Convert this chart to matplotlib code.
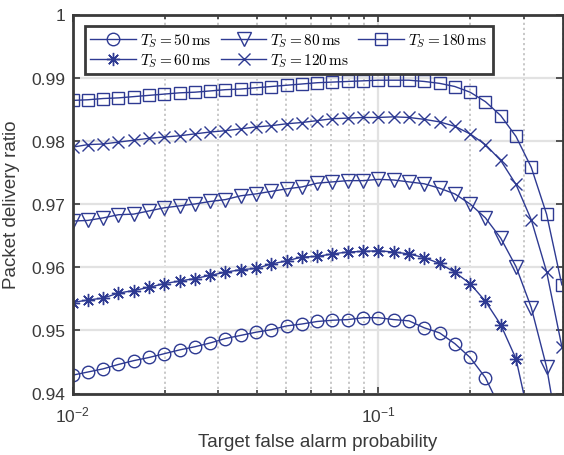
import matplotlib
matplotlib.use('Agg')
import matplotlib.pyplot as plt
from matplotlib.font_manager import FontProperties

# ---- data ----
pfa = [0.01, 0.01122, 0.01259, 0.01413, 0.01585, 0.01778, 0.01995, 0.02239,
       0.02512, 0.02818, 0.03162, 0.03548, 0.03981, 0.04467, 0.05012, 0.05623,
       0.0631, 0.07079, 0.07943, 0.08913, 0.1, 0.1122, 0.1259, 0.1413,
       0.1585, 0.1778, 0.1995, 0.2239, 0.2512, 0.2818, 0.3162, 0.3548, 0.3981]

pdr_50 = [0.9429, 0.9434, 0.9439, 0.9446, 0.9452, 0.9457, 0.9463, 0.9469,
          0.9474, 0.9480, 0.9487, 0.9492, 0.9497, 0.9501, 0.9507, 0.9510,
          0.9514, 0.9516, 0.9517, 0.9520, 0.9520, 0.9517, 0.9515, 0.9504,
          0.9496, 0.9479, 0.9457, 0.9425, 0.9375]
pdr_60 = [0.9544, 0.9548, 0.9551, 0.9559, 0.9563, 0.9568, 0.9574, 0.9578,
          0.9582, 0.9587, 0.9592, 0.9596, 0.9598, 0.9605, 0.9610, 0.9616,
          0.9617, 0.9621, 0.9624, 0.9625, 0.9626, 0.9624, 0.9621, 0.9615,
          0.9606, 0.9592, 0.9574, 0.9546, 0.9509, 0.9455, 0.9345]
pdr_80 = [0.9673, 0.9674, 0.9678, 0.9683, 0.9684, 0.9689, 0.9694, 0.9697,
          0.9700, 0.9704, 0.9707, 0.9713, 0.9716, 0.9720, 0.9724, 0.9727,
          0.9733, 0.9735, 0.9737, 0.9737, 0.9739, 0.9738, 0.9735, 0.9732,
          0.9725, 0.9716, 0.9700, 0.9678, 0.9646, 0.9601, 0.9536, 0.9442,
          0.9300]
pdr_120 = [0.9790, 0.9794, 0.9795, 0.9798, 0.9801, 0.9804, 0.9806, 0.9808,
           0.9811, 0.9814, 0.9816, 0.9819, 0.9822, 0.9824, 0.9827, 0.9829,
           0.9832, 0.9835, 0.9836, 0.9837, 0.9837, 0.9838, 0.9837, 0.9834,
           0.9830, 0.9823, 0.9811, 0.9794, 0.9769, 0.9731, 0.9675, 0.9593,
           0.9474]
pdr_180 = [0.9864, 0.9865, 0.9867, 0.9868, 0.9870, 0.9872, 0.9874, 0.9876,
           0.9877, 0.9879, 0.9881, 0.9882, 0.9884, 0.9886, 0.9888, 0.9890,
           0.9892, 0.9893, 0.9894, 0.9895, 0.9896, 0.9896, 0.9896, 0.9894,
           0.9891, 0.9886, 0.9877, 0.9862, 0.9840, 0.9807, 0.9758, 0.9684,
           0.9572]

labels = [r'$T_S = 50\,\mathrm{ms}$', r'$T_S = 60\,\mathrm{ms}$',
          r'$T_S = 80\,\mathrm{ms}$', r'$T_S = 120\,\mathrm{ms}$',
          r'$T_S = 180\,\mathrm{ms}$']
markers = ['o', (8, 2, 0), 'v', 'x', 's']
msizes = [9, 9.5, 10, 8, 8.5]
series = [pdr_50, pdr_60, pdr_80, pdr_120, pdr_180]

yticks = [0.94, 0.95, 0.96, 0.97, 0.98, 0.99, 1.0]
yticklabels = ['0.94', '0.95', '0.96', '0.97', '0.98', '0.99', '1']
xticks = [0.01, 0.1]
xticklabels = [r'$\mathregular{10^{-2}}$', r'$\mathregular{10^{-1}}$']

# ---- style ----
plt.rcParams['font.family'] = ['Liberation Sans', 'DejaVu Sans']
axcol = '#3a3a3a'
linecol = '#2e3a92'

fig = plt.figure(figsize=(5.64, 4.56), dpi=100)
W, H = 564, 456
left, right, top, bottom = 72.5, 562.5, 15.5, 394.5
ax = fig.add_axes([left / W, 1 - bottom / H, (right - left) / W, (bottom - top) / H])

for y, lab, m, ms in zip(series, labels, markers, msizes):
    ax.plot(pfa[:len(y)], y, color=linecol, lw=1.0, marker=m, ms=ms,
            mfc='none', mec=linecol, mew=1.0, label=lab)

ax.set_xscale('log')
ax.set_xlim(0.01, 0.4)
ax.set_ylim(0.94, 1.0)
ax.set_xticks(xticks)
ax.set_xticklabels(xticklabels)
ax.set_yticks(yticks)
ax.set_yticklabels(yticklabels)
ax.xaxis.set_minor_formatter(plt.NullFormatter())

ax.tick_params(which='both', direction='in', top=True, right=True,
               colors=axcol, labelsize=12.5, width=1.2)
ax.tick_params(which='major', length=5, pad=5)
ax.tick_params(axis='x', which='major', pad=8)
ax.tick_params(which='minor', length=3)
ax.tick_params(axis='y', which='minor', left=False, right=False)
for lbl in ax.get_xticklabels() + ax.get_yticklabels():
    lbl.set_color(axcol)

ax.grid(True, which='major', color='#e2e2e2', lw=1.6, ls='-')
ax.grid(True, which='minor', axis='x', color='#c4c4c4', lw=1.3, ls=(0, (1.2, 1.6)))
ax.set_axisbelow(True)

for s in ax.spines.values():
    s.set_color(axcol)
    s.set_linewidth(2.0)

ax.set_xlabel('Target false alarm probability', fontsize=13.5, color=axcol, labelpad=6)
ax.set_ylabel('Packet delivery ratio', fontsize=13.5, color=axcol, labelpad=8)

leg = ax.legend(loc='upper left', ncol=3,
                bbox_to_anchor=(12.5 / 490, 1 - 11.5 / 379), borderaxespad=0,
                prop=FontProperties(size=11, math_fontfamily='cm'),
                fancybox=False, framealpha=1, edgecolor=axcol,
                handlelength=3.0, handletextpad=0.25, columnspacing=0.6,
                labelspacing=0.15, borderpad=0.35)
leg.get_frame().set_linewidth(2.0)

fig.savefig('out.png', dpi=100)
